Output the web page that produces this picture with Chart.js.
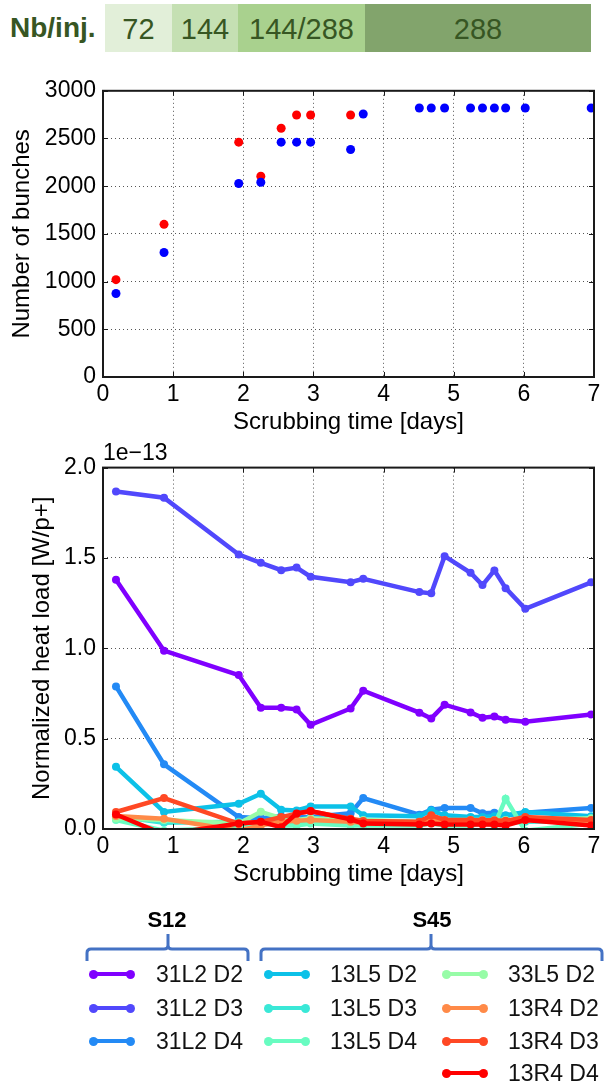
<!DOCTYPE html>
<html>
<head>
<meta charset="utf-8">
<script src="https://cdn.jsdelivr.net/npm/chart.js@4.4.1/dist/chart.umd.min.js"></script>
<style>
  body { margin: 0; width: 610px; height: 1084px; background: #fff; position: relative; overflow: hidden;
         font-family: "Liberation Sans", Arial, sans-serif; }
  .abs { position: absolute; }
  #nbinj { left: 10px; top: 4px; height: 48px; line-height: 48px; font-size: 28px; font-weight: bold; color: #375623; }
  .inj { top: 4px; height: 48px; line-height: 50px; font-size: 29px; color: #375623; text-align: center; }
  #c1wrap { left: 0; top: 70px; }
  #c2wrap { left: 0; top: 440px; }
  .grp { font-size: 22px; font-weight: bold; color: #000; transform: translate(-50%, -50%); }
  .lg { font-size: 23px; color: #111; transform: translateY(-50%); white-space: nowrap; }
  .swl { height: 4px; margin-top: -2px; }
  .swd { width: 9px; height: 9px; border-radius: 50%; margin-top: -4.5px; margin-left: -4.5px; }
</style>
</head>
<body>
<div id="nbinj" class="abs">Nb/inj.</div>
<div id="c1wrap" class="abs"><canvas id="bunches_chart" width="610" height="370"></canvas></div>
<div id="c2wrap" class="abs"><canvas id="heatload_chart" width="610" height="452"></canvas></div>
<svg class="abs" style="left:0;top:0" width="610" height="1084">
  <path d="M87,961 L87,953 Q87,949 91,949 L164,949 Q168,949 168,945 L168,934 M168,945 Q168,949 172,949 L244,949 Q248,949 248,953 L248,961"
        fill="none" stroke="#4472c4" stroke-width="3"/>
  <path d="M261,961 L261,953 Q261,949 265,949 L427,949 Q431,949 431,945 L431,934 M431,945 Q431,949 435,949 L598,949 Q602,949 602,953 L602,961"
        fill="none" stroke="#4472c4" stroke-width="3"/>
</svg>
<div id="legend"></div>
<script>
// bunches per injection (banner)
var injLabels = ['72', '144', '144/288', '288'];
var injColors = ['#e2efd9', '#c5e0b3', '#a9d18e', '#82a46c'];
var injEdges = [105, 172, 238, 365, 591];

// scrubbing time of each fill [days]
var days = [0.185, 0.87, 1.935, 2.25, 2.54, 2.76, 2.96, 3.53, 3.71, 4.51, 4.68, 4.87, 5.24, 5.41, 5.58, 5.74, 6.02, 6.96];

// number of bunches
var bunchesBlue = [875, 1305, 2028, 2042, 2462, 2462, 2462, 2385, 2757, 2820, 2820, 2820, 2820, 2820, 2820, 2820, 2820, 2820];
var bunchesRed = [1020, 1600, 2462, 2104, 2607, 2746, 2746, 2746];

var xTicks = [0, 1, 2, 3, 4, 5, 6, 7];
var bunchTicks = [0, 500, 1000, 1500, 2000, 2500, 3000];
var heatTicks = [0.0, 0.5, 1.0, 1.5, 2.0];
var heatExponent = '1e\u221213';

// normalized heat load, units of 1e-13 W/p+
var hl_31L2_D2 = [1.379, 0.987, 0.852, 0.671, 0.671, 0.662, 0.577, 0.667, 0.765, 0.644, 0.612, 0.688, 0.645, 0.616, 0.622, 0.605, 0.594, 0.634];
var hl_31L2_D3 = [1.868, 1.833, 1.519, 1.473, 1.432, 1.447, 1.396, 1.366, 1.385, 1.311, 1.304, 1.510, 1.418, 1.350, 1.431, 1.333, 1.219, 1.365];
var hl_31L2_D4 = [0.789, 0.358, 0.066, 0.060, 0.070, 0.065, 0.066, 0.087, 0.171, 0.079, 0.107, 0.116, 0.116, 0.087, 0.090, 0.075, 0.090, 0.116];
var hl_13L5_D2 = [0.344, 0.094, 0.140, 0.195, 0.107, 0.103, 0.125, 0.125, 0.076, 0.070, 0.103, 0.076, 0.066, 0.066, 0.070, 0.075, 0.094, 0.070];
var hl_13L5_D3 = [0.070, 0.035, 0.040, 0.030, 0.040, 0.030, 0.040, 0.040, 0.035, 0.030, 0.040, 0.040, 0.035, 0.040, 0.030, 0.035, 0.040, 0.045];
var hl_13L5_D4 = [0.050, -0.010, 0.010, 0.030, 0.020, 0.020, 0.030, 0.020, 0.020, 0.020, 0.030, 0.020, 0.020, 0.030, 0.020, 0.168, -0.010, 0.030];
var hl_33L5_D2 = [0.060, 0.050, 0.030, 0.095, 0.060, 0.050, 0.060, 0.050, 0.050, 0.040, 0.050, 0.050, 0.050, 0.050, 0.050, 0.050, 0.050, 0.060];
var hl_13R4_D2 = [0.072, 0.057, -0.010, 0.020, 0.040, 0.045, 0.050, 0.040, 0.035, 0.030, 0.045, 0.040, 0.040, 0.035, 0.040, 0.035, 0.050, 0.045];
var hl_13R4_D3 = [0.094, 0.171, 0.030, 0.039, 0.066, 0.085, 0.098, 0.057, 0.044, 0.040, 0.076, 0.050, 0.050, 0.048, 0.048, 0.045, 0.066, 0.050];
var hl_13R4_D4 = [0.080, -0.030, 0.030, 0.040, 0.010, 0.086, 0.100, 0.053, 0.030, 0.025, 0.030, 0.025, 0.025, 0.025, 0.025, 0.020, 0.050, 0.020];

var seriesNames = ['31L2 D2', '31L2 D3', '31L2 D4', '13L5 D2', '13L5 D3', '13L5 D4', '33L5 D2', '13R4 D2', '13R4 D3', '13R4 D4'];
var seriesValues = [hl_31L2_D2, hl_31L2_D3, hl_31L2_D4, hl_13L5_D2, hl_13L5_D3, hl_13L5_D4, hl_33L5_D2, hl_13R4_D2, hl_13R4_D3, hl_13R4_D4];
var seriesColors = ['#8000ff', '#5148fc', '#238af5', '#0cc1e8', '#3ae8d7', '#68fcc1', '#97fca7', '#ff8a48', '#ff4824', '#ff0000'];

// legend layout
var groupNames = ['S12', 'S45'];
var groupCenters = [167, 432];
var legendCol = [0, 0, 0, 1, 1, 1, 2, 2, 2, 2];
var legendRow = [0, 1, 2, 0, 1, 2, 0, 1, 2, 3];
var colSwatchX = [93, 268, 446];
var colTextX = [156, 330, 508];
var rowY = [974, 1008, 1041, 1073];

function xy(xs, ys) {
  return ys.map(function (v, i) { return { x: xs[i], y: v }; });
}

// banner
injLabels.forEach(function (lab, i) {
  var d = document.createElement('div');
  d.className = 'abs inj';
  d.style.left = injEdges[i] + 'px';
  d.style.width = (injEdges[i + 1] - injEdges[i]) + 'px';
  d.style.background = injColors[i];
  d.textContent = lab;
  document.body.appendChild(d);
});

// grouped legend
var legend = document.getElementById('legend');
groupNames.forEach(function (g, i) {
  var d = document.createElement('div');
  d.className = 'abs grp';
  d.style.left = groupCenters[i] + 'px';
  d.style.top = '920px';
  d.textContent = g;
  legend.appendChild(d);
});
seriesNames.forEach(function (name, i) {
  var x0 = colSwatchX[legendCol[i]], y0 = rowY[legendRow[i]], w = 37;
  var l = document.createElement('div');
  l.className = 'abs swl';
  l.style.left = x0 + 'px'; l.style.top = y0 + 'px'; l.style.width = w + 'px';
  l.style.background = seriesColors[i];
  legend.appendChild(l);
  [x0, x0 + w].forEach(function (px) {
    var p = document.createElement('div');
    p.className = 'abs swd';
    p.style.left = px + 'px'; p.style.top = y0 + 'px';
    p.style.background = seriesColors[i];
    legend.appendChild(p);
  });
  var t = document.createElement('div');
  t.className = 'abs lg';
  t.style.left = colTextX[legendCol[i]] + 'px';
  t.style.top = y0 + 'px';
  t.textContent = name;
  legend.appendChild(t);
});

// matplotlib-like frame with inward ticks
var framePlugin = {
  id: 'frame',
  afterDraw: function (chart) {
    var ctx = chart.ctx, a = chart.chartArea, sx = chart.scales.x, sy = chart.scales.y;
    ctx.save();
    ctx.strokeStyle = '#1a1a1a';
    ctx.lineWidth = 1;
    ctx.beginPath();
    sx.ticks.forEach(function (t) {
      var px = Math.round(sx.getPixelForValue(t.value)) + 0.5;
      ctx.moveTo(px, a.bottom); ctx.lineTo(px, a.bottom - 5);
      ctx.moveTo(px, a.top); ctx.lineTo(px, a.top + 5);
    });
    sy.ticks.forEach(function (t) {
      var py = Math.round(sy.getPixelForValue(t.value)) + 0.5;
      ctx.moveTo(a.left, py); ctx.lineTo(a.left + 5, py);
      ctx.moveTo(a.right, py); ctx.lineTo(a.right - 5, py);
    });
    ctx.stroke();
    ctx.lineWidth = 2;
    ctx.strokeRect(a.left, a.top, a.right - a.left, a.bottom - a.top);
    ctx.restore();
  }
};

var tickFont = { family: 'Liberation Sans', size: 23 };
var titleFont = { family: 'Liberation Sans', size: 24 };

function xScale() {
  return {
    type: 'linear', min: 0, max: 7,
    afterBuildTicks: function (s) { s.ticks = xTicks.map(function (v) { return { value: v }; }); },
    ticks: { font: tickFont, color: '#000', padding: 4 },
    grid: { color: '#555', lineWidth: 1, drawTicks: false },
    border: { display: false, dash: [1, 3] },
    title: { display: true, text: 'Scrubbing time [days]', font: titleFont, color: '#000', padding: { top: 0, bottom: 3 } },
    afterFit: function (s) { s.height = 63; }
  };
}

function yScale(tickList, label, titlePad, fmt) {
  return {
    type: 'linear', min: tickList[0], max: tickList[tickList.length - 1],
    afterBuildTicks: function (s) { s.ticks = tickList.map(function (v) { return { value: v }; }); },
    ticks: { font: tickFont, color: '#000', padding: 7, callback: fmt },
    grid: { color: '#555', lineWidth: 1, drawTicks: false },
    border: { display: false, dash: [1, 3] },
    title: { display: true, text: label, font: titleFont, color: '#000', padding: { top: titlePad, bottom: 0 } },
    afterFit: function (s) { s.width = 103; }
  };
}

window.onload = function () {
  var bunches_ctx = document.getElementById('bunches_chart').getContext('2d');
  new Chart(bunches_ctx, {
    type: 'scatter',
    data: {
      datasets: [{
        label: 'Blue', data: xy(days, bunchesBlue), order: 0,
        backgroundColor: '#0000ff', borderWidth: 0, pointRadius: 4.5
      }, {
        label: 'Red', data: xy(days, bunchesRed), order: 1,
        backgroundColor: '#ff0000', borderWidth: 0, pointRadius: 4.5
      }]
    },
    options: {
      responsive: false, animation: false,
      layout: { padding: { top: 19, right: 16, left: 0, bottom: 0 } },
      plugins: { legend: { display: false }, tooltip: { enabled: false } },
      scales: {
        x: xScale(),
        y: yScale(bunchTicks, 'Number of bunches', 8, function (v) { return v; })
      }
    },
    plugins: [framePlugin]
  });

  var heat_ctx = document.getElementById('heatload_chart').getContext('2d');
  new Chart(heat_ctx, {
    type: 'line',
    data: {
      datasets: seriesNames.map(function (name, i) {
        return {
          label: name, data: xy(days, seriesValues[i]), order: seriesNames.length - i,
          borderColor: seriesColors[i], backgroundColor: seriesColors[i],
          borderWidth: 4.5, pointRadius: 4, pointBorderWidth: 0, fill: false
        };
      })
    },
    options: {
      responsive: false, animation: false,
      layout: { padding: { top: 0, right: 16, left: 0, bottom: 0 } },
      plugins: {
        legend: { display: false }, tooltip: { enabled: false },
        title: { display: true, text: heatExponent, align: 'start', fullSize: false, color: '#000',
                 font: { family: 'Liberation Sans', size: 23, weight: 'normal' }, padding: { top: 0, bottom: 0 } }
      },
      scales: {
        x: xScale(),
        y: yScale(heatTicks, 'Normalized heat load [W/p+]', 28, function (v) { return v.toFixed(1); })
      }
    },
    plugins: [framePlugin]
  });
};
</script>
</body>
</html>
